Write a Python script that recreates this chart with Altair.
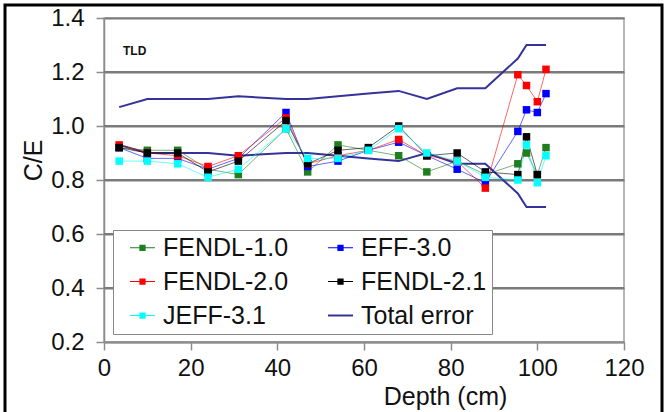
import altair as alt
import pandas as pd

# ---------------- data ----------------
depth = [3.5, 10, 17, 24, 31, 42, 47, 54, 61, 68, 74.5, 81.5, 88, 95.5, 97.5, 100, 102]

fendl_10 = [0.92, 0.91, 0.91, 0.84, 0.82, 0.99, 0.83, 0.93, 0.91, 0.89, 0.83, 0.87, 0.82, 0.86, 0.90, 0.82, 0.92]
eff_30 = [0.92, 0.88, 0.88, 0.84, 0.88, 1.05, 0.85, 0.87, 0.91, 0.94, 0.89, 0.84, 0.79, 0.98, 1.06, 1.05, 1.12]
fendl_20 = [0.93, 0.90, 0.89, 0.85, 0.89, 1.03, 0.86, 0.89, 0.91, 0.95, 0.89, 0.87, 0.77, 1.19, 1.15, 1.09, 1.21]
fendl_21 = [0.92, 0.90, 0.90, 0.83, 0.87, 1.02, 0.86, 0.91, 0.92, 1.00, 0.89, 0.90, 0.83, 0.82, 0.96, 0.82, None]
jeff_31 = [0.87, 0.87, 0.86, 0.81, 0.84, 0.99, 0.88, 0.88, 0.91, 0.99, 0.90, 0.87, 0.81, 0.80, 0.93, 0.79, 0.89]

err_upper = [1.07, 1.10, 1.10, 1.10, 1.11, 1.10, 1.10, 1.11, 1.12, 1.13, 1.10, 1.14, 1.14, 1.25, 1.30, 1.30, 1.30]
err_lower = [0.93, 0.90, 0.90, 0.90, 0.89, 0.90, 0.90, 0.89, 0.88, 0.87, 0.90, 0.86, 0.86, 0.75, 0.70, 0.70, 0.70]

series_names = ["FENDL-1.0", "EFF-3.0", "FENDL-2.0", "FENDL-2.1", "JEFF-3.1", "Total error"]
series_values = [fendl_10, eff_30, fendl_20, fendl_21, jeff_31]

x_ticks = [0, 20, 40, 60, 80, 100, 120]
y_ticks = [0.2, 0.4, 0.6, 0.8, 1.0, 1.2, 1.4]

# ---------------- styles ----------------
colors = ["#1f7f1f", "#0000ff", "#ff0000", "#000000", "#00ffff", "#333399"]
grid_color = "#7a7a7a"
# legend symbols: thin bar (line) + square marker; total error: line only
sym_marker = "M-1,-0.045H1V0.045H-1Z M-0.25,-0.25H0.25V0.25H-0.25Z"
sym_line = "M-1,-0.08H1V0.08H-1Z"
shapes = [sym_marker] * 5 + [sym_line]

rows = []
for name, vals in zip(series_names[:5], series_values):
    for d, v in zip(depth, vals):
        if v is not None:
            rows.append({"series": name, "depth": d, "ce": v})
df = pd.DataFrame(rows)

err_rows = []
for bound, vals in (("upper", err_upper), ("lower", err_lower)):
    for d, v in zip(depth, vals):
        err_rows.append({"series": "Total error", "bound": bound, "depth": d, "ce": v})
df_err = pd.DataFrame(err_rows)

# horizontal gridlines spanning the x-axis extent at each inner y tick
grid_rows = []
for t in y_ticks[1:-1]:
    for xe in (x_ticks[0], x_ticks[-1]):
        grid_rows.append({"tick": "g%.1f" % t, "depth": xe, "ce": t})
df_grid = pd.DataFrame(grid_rows)

FONT = "Liberation Sans"
W, H = 520, 324

x_enc = alt.X(
    "depth:Q",
    scale=alt.Scale(domain=[0, 120], nice=False),
    axis=alt.Axis(
        values=x_ticks, format="d", title="Depth (cm)", grid=False, labelFlush=False,
        labelPadding=6, titleX=341, titleY=62, titleBaseline="alphabetic",
        titleAlign="center",
    ),
)
y_enc = alt.Y(
    "ce:Q",
    scale=alt.Scale(domain=[0.2, 1.4], nice=False, zero=False),
    axis=alt.Axis(
        values=y_ticks, format=".1f", title="C/E", grid=True,
        gridColor=grid_color, gridWidth=2, gridOpacity=1,
        labelPadding=12, titleX=-71, titleY=142, titleAngle=270,
        titleBaseline="middle", titleAlign="center",
    ),
)
color_scale = alt.Scale(domain=series_names, range=colors)

# legend-only layer (empty data), first so its legend settings win when merged
legend_layer = alt.Chart(df).transform_filter("datum.depth < -1000").mark_point(
    filled=True, opacity=1, size=625
).encode(
    x=x_enc, y=y_enc,
    color=alt.Color("series:N", scale=color_scale, legend=alt.Legend(title=None)),
    shape=alt.Shape("series:N", scale=alt.Scale(domain=series_names, range=shapes),
                    legend=alt.Legend(title=None)),
)

grid = alt.Chart(df_grid).mark_line(strokeWidth=2, opacity=1).encode(
    x=x_enc, y=y_enc, detail="tick:N", color=alt.value(grid_color)
)

lines = alt.Chart(df).mark_line(strokeWidth=1, opacity=0.6).encode(
    x=x_enc, y=y_enc, color=alt.Color("series:N", scale=color_scale)
)

err = alt.Chart(df_err).mark_line(strokeWidth=2).encode(
    x=x_enc, y=y_enc,
    color=alt.Color("series:N", scale=color_scale),
    detail="bound:N",
)

points = alt.Chart(df).mark_point(shape="square", filled=True, size=56, opacity=1).encode(
    x=x_enc, y=y_enc, color=alt.Color("series:N", scale=color_scale)
)

tld = alt.Chart(pd.DataFrame({"t": ["TLD"]})).mark_text(
    align="left", baseline="alphabetic", fontSize=12, fontWeight="bold", font=FONT, color="#111"
).encode(x=alt.value(19), y=alt.value(37), text="t:N")

border = alt.Chart(pd.DataFrame({"a": [0]})).mark_rect(
    fillOpacity=0, stroke="black", strokeWidth=3
).encode(x=alt.value(-99), x2=alt.value(558), y=alt.value(-13), y2=alt.value(430))

chart = alt.layer(legend_layer, grid, err, lines, points, tld, border).properties(
    width=W, height=H,
    autosize=alt.AutoSizeParams(type="none"),
    padding={"left": 104, "top": 18, "right": 41, "bottom": 70},
    background="white",
).configure_view(
    stroke="#a0a0a0", strokeWidth=1.5
).configure_axis(
    labelFont=FONT, titleFont=FONT, labelFontSize=24, titleFontSize=25,
    labelColor="#111", titleColor="#111", titleFontWeight="normal",
    domainColor="#8c8c8c", tickColor="#8c8c8c",
    domainWidth=1.5, tickWidth=1.5, tickSize=8,
).configure_legend(
    orient="none", legendX=9, legendY=212, columns=2, direction="horizontal",
    fillColor="white", strokeColor="#888888", padding=5, cornerRadius=0,
    symbolOffset=12, labelOffset=8, columnPadding=27, rowPadding=8,
    labelFont=FONT, labelFontSize=25, labelColor="#111", labelLimit=300,
    symbolSize=625, symbolStrokeWidth=0,
)

chart.save("out.html", embed_options={"renderer": "svg", "actions": False})
